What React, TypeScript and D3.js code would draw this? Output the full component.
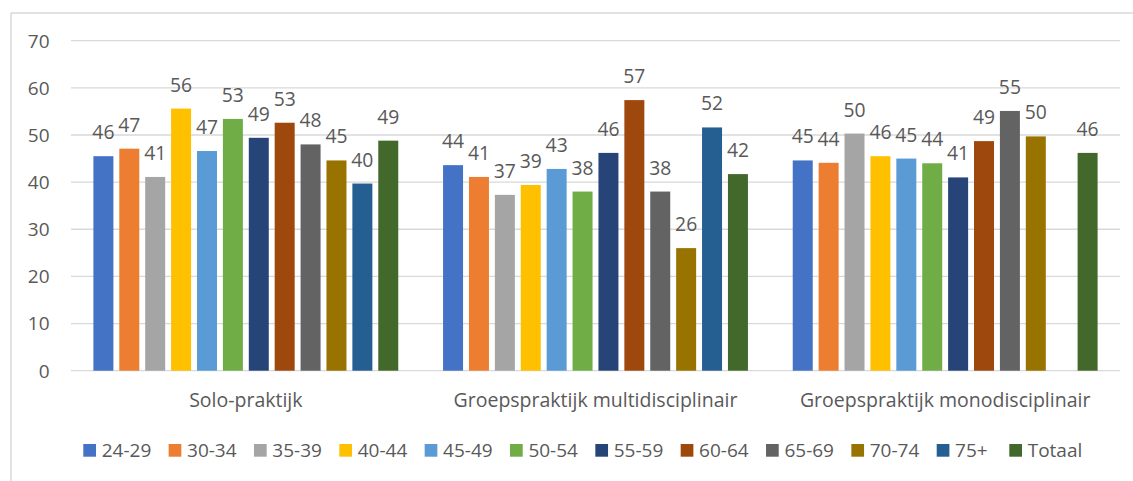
import React from "react";
import * as d3 from "d3";

// Practice types along the x axis
const categories = [
  "Solo-praktijk",
  "Groepspraktijk multidisciplinair",
  "Groepspraktijk monodisciplinair",
];

// Age groups (series) and their colours
const seriesNames = [
  "24-29", "30-34", "35-39", "40-44", "45-49", "50-54",
  "55-59", "60-64", "65-69", "70-74", "75+", "Totaal",
];
const seriesColors = [
  "#4472C4", "#ED7D31", "#A5A5A5", "#FFC000", "#5B9BD5", "#70AD47",
  "#264478", "#9E480E", "#636363", "#997300", "#255E91", "#43682B",
];

// Values per practice type, one entry per age group (null = no data)
const soloValues: (number | null)[] = [45.5, 47.1, 41.1, 55.6, 46.6, 53.4, 49.4, 52.6, 48.0, 44.6, 39.7, 48.8];
const multiValues: (number | null)[] = [43.6, 41.1, 37.3, 39.4, 42.8, 38.0, 46.2, 57.4, 38.0, 26.0, 51.6, 41.7];
const monoValues: (number | null)[] = [44.6, 44.1, 50.3, 45.5, 45.0, 44.0, 41.0, 48.7, 55.1, 49.7, null, 46.2];

const yTicks = [0, 10, 20, 30, 40, 50, 60, 70];

const W = 1133;
const H = 481;
const FONT = "'Open Sans', 'Noto Sans', sans-serif";
const TEXT = "#595959";
const GRID = "#D9D9D9";

export default function App() {
  const valuesByCat = [soloValues, multiValues, monoValues];

  const plotLeft = 71;
  const plotRight = 1120;
  const plotTop = 40.7;
  const plotBottom = 370.7;

  const y = d3.scaleLinear().domain([0, 70]).range([plotBottom, plotTop]);
  const x0 = d3.scaleBand<string>().domain(categories).range([plotLeft, plotRight]).padding(0);
  const outer = 22.4;
  const x1 = d3
    .scaleBand<string>()
    .domain(seriesNames)
    .range([outer, x0.bandwidth() - outer])
    .paddingInner(0.228)
    .paddingOuter(0);

  const fmt = d3.format(".0f");

  // Legend layout
  const legendStep = 85.34;
  const legendStart = 83.3;
  const legendX = seriesNames.map((_, i) =>
    i < seriesNames.length - 1 ? legendStart + i * legendStep : legendStart + (i - 1) * legendStep + 72.6
  );
  const legendY = 444;
  const sq = 12.7;

  return (
    <svg
      width={W}
      height={H}
      viewBox={`0 0 ${W} ${H}`}
      style={{ position: "absolute", left: 0, top: 0, background: "#fff" }}
      fontFamily={FONT}
    >
      <rect x={0} y={0} width={W} height={H} fill="#fff" />
      {/* chart frame */}
      <line x1={11} x2={W} y1={13} y2={13} stroke={GRID} strokeWidth={1.5} />
      <line x1={11} x2={11} y1={13} y2={H} stroke={GRID} strokeWidth={1.5} />

      {/* gridlines + y tick labels */}
      {yTicks.map((t) => (
        <g key={t}>
          <line x1={plotLeft} x2={plotRight} y1={y(t)} y2={y(t)} stroke={GRID} strokeWidth={1.3} />
          <text x={49.5} y={y(t) + 6.8} textAnchor="end" fontSize={19} fill={TEXT}>
            {t}
          </text>
        </g>
      ))}

      {/* bars and value labels */}
      {categories.map((cat, ci) => (
        <g key={cat} transform={`translate(${x0(cat)},0)`}>
          {seriesNames.map((s, si) => {
            const v = valuesByCat[ci][si];
            if (v == null) return null;
            const bx = x1(s)!;
            const bw = x1.bandwidth();
            return (
              <g key={s}>
                <rect x={bx} y={y(v)} width={bw} height={y(0) - y(v)} fill={seriesColors[si]} />
                <text x={bx + bw / 2} y={y(v) - 17} textAnchor="middle" fontSize={19.3} fill={TEXT}>
                  {fmt(v)}
                </text>
              </g>
            );
          })}
          <text x={x0.bandwidth() / 2} y={406.5} textAnchor="middle" fontSize={19.5} fill={TEXT}>
            {cat}
          </text>
        </g>
      ))}

      {/* legend */}
      {seriesNames.map((s, i) => (
        <g key={s} transform={`translate(${legendX[i]},${legendY})`}>
          <rect x={0} y={0} width={sq} height={sq} fill={seriesColors[i]} />
          <text x={18.4} y={13.3} fontSize={19} fill={TEXT}>
            {s}
          </text>
        </g>
      ))}
    </svg>
  );
}
